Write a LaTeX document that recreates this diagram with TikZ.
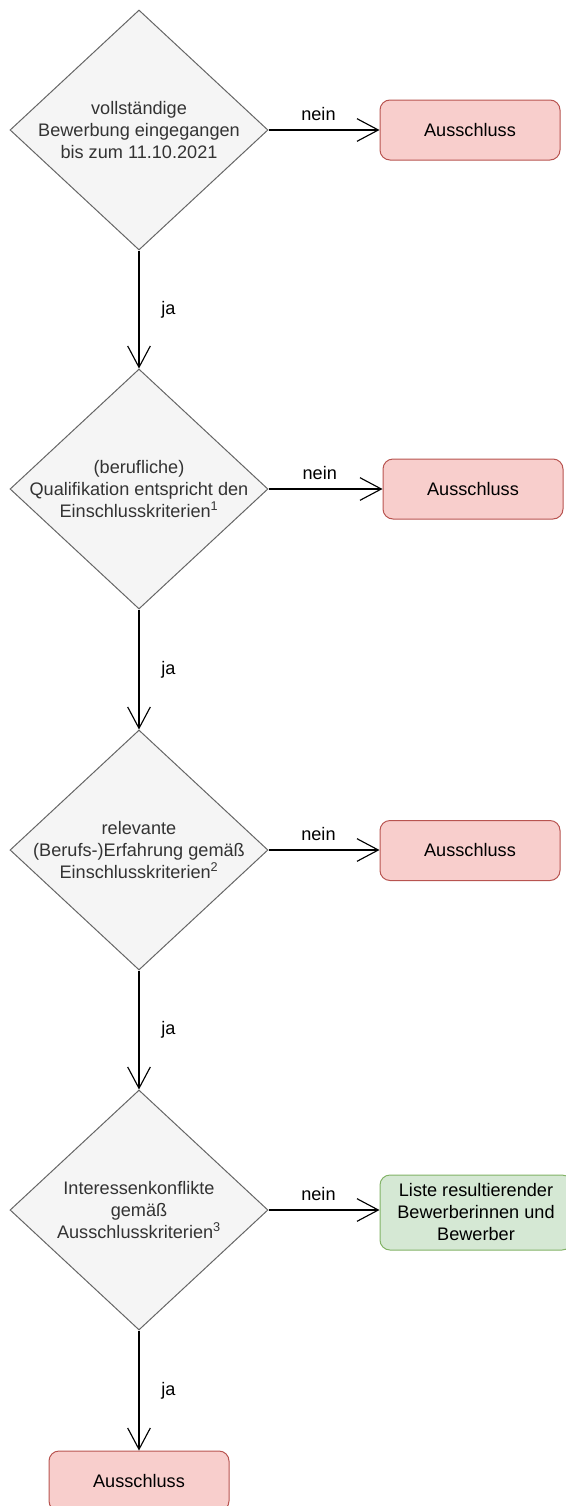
\documentclass[tikz,border=0pt]{standalone}
\usepackage{fontspec}
\setmainfont{Liberation Sans}
\usepackage{tikz}
\usetikzlibrary{positioning}
\usetikzlibrary{shapes.geometric}
\usetikzlibrary{arrows.meta}
\usepackage{xcolor}
\definecolor{diaFill}{HTML}{F5F5F5}
\definecolor{diaLine}{HTML}{666666}
\definecolor{diaText}{HTML}{333333}
\definecolor{redFill}{HTML}{F8CECC}
\definecolor{redLine}{HTML}{B85450}
\definecolor{greenFill}{HTML}{D5E8D4}
\definecolor{greenLine}{HTML}{82B366}
\tikzset{mytext/.style={font=\fontsize{13.6}{16.5}\selectfont}}
\tikzset{mydia/.style={diamond, draw=diaLine, fill=diaFill, line width=0.75pt, inner sep=0pt, minimum width=193.5pt, minimum height=180pt}}
\tikzset{mydiaText/.style={mytext, text=diaText, align=center, inner sep=0pt}}
\tikzset{myboxRed/.style={mytext, draw=redLine, fill=redFill, line width=0.75pt, rounded corners=7.5pt, minimum width=135pt, minimum height=45pt, align=center}}
\tikzset{myboxGreen/.style={mytext, draw=greenLine, fill=greenFill, line width=0.75pt, rounded corners=7.5pt, minimum width=144pt, minimum height=56.25pt, align=center, inner sep=0pt}}
\tikzset{myarrow/.style={line width=0.85pt, -{Straight Barb[length=16pt, width=17pt, line width=0.85pt]}}}

\begin{document}
\begin{tikzpicture}[x=0.75pt, y=-0.75pt]
\useasboundingbox (0, 0) rectangle (565, 1506);

\node[mydia, label={[mydiaText]center:{vollständige\\ Bewerbung eingegangen\\ bis zum 11.10.2021}}] (d1) at (139, 130) { };
\node[mydia, label={[mydiaText]center:{(berufliche)\\ Qualifikation entspricht den\\ Einschlusskriterien\textsuperscript{1}}}] (d2) at (139, 489) { };
\node[mydia, label={[mydiaText]center:{relevante\\ (Berufs-)Erfahrung gemäß\\ Einschlusskriterien\textsuperscript{2}}}] (d3) at (139, 850) { };
\node[mydia, label={[mydiaText]center:{Interessenkonflikte\\ gemäß\\ Ausschlusskriterien\textsuperscript{3}}}] (d4) at (139, 1210) { };

\node[myboxRed] (r1) at (470, 130) {Ausschluss};
\node[myboxRed] (r2) at (473, 489) {Ausschluss};
\node[myboxRed] (r3) at (470, 850.5) {Ausschluss};
\node[myboxGreen] (g4) at (476, 1212.5) {Liste resultierender\\ Bewerberinnen und\\ Bewerber};
\node[myboxRed] (r4) at (139, 1481) {Ausschluss};

\draw[myarrow] (d1.east) to node[mytext, pos=0.45, above=3pt] {nein} (d1.east -| r1.west);
\draw[myarrow] (d2.east) to node[mytext, pos=0.45, above=3pt] {nein} (d2.east -| r2.west);
\draw[myarrow] (d3.east) to node[mytext, pos=0.45, above=3pt] {nein} (d3.east -| r3.west);
\draw[myarrow] (d4.east) to node[mytext, pos=0.45, above=3pt] {nein} (d4.east -| g4.west);

\draw[myarrow] (d1.south) to node[mytext, midway, right=13pt] {ja} (d2.north);
\draw[myarrow] (d2.south) to node[mytext, midway, right=13pt] {ja} (d3.north);
\draw[myarrow] (d3.south) to node[mytext, midway, right=13pt] {ja} (d4.north);
\draw[myarrow] (d4.south) to node[mytext, midway, right=13pt] {ja} (r4.north);

\end{tikzpicture}
\end{document}
